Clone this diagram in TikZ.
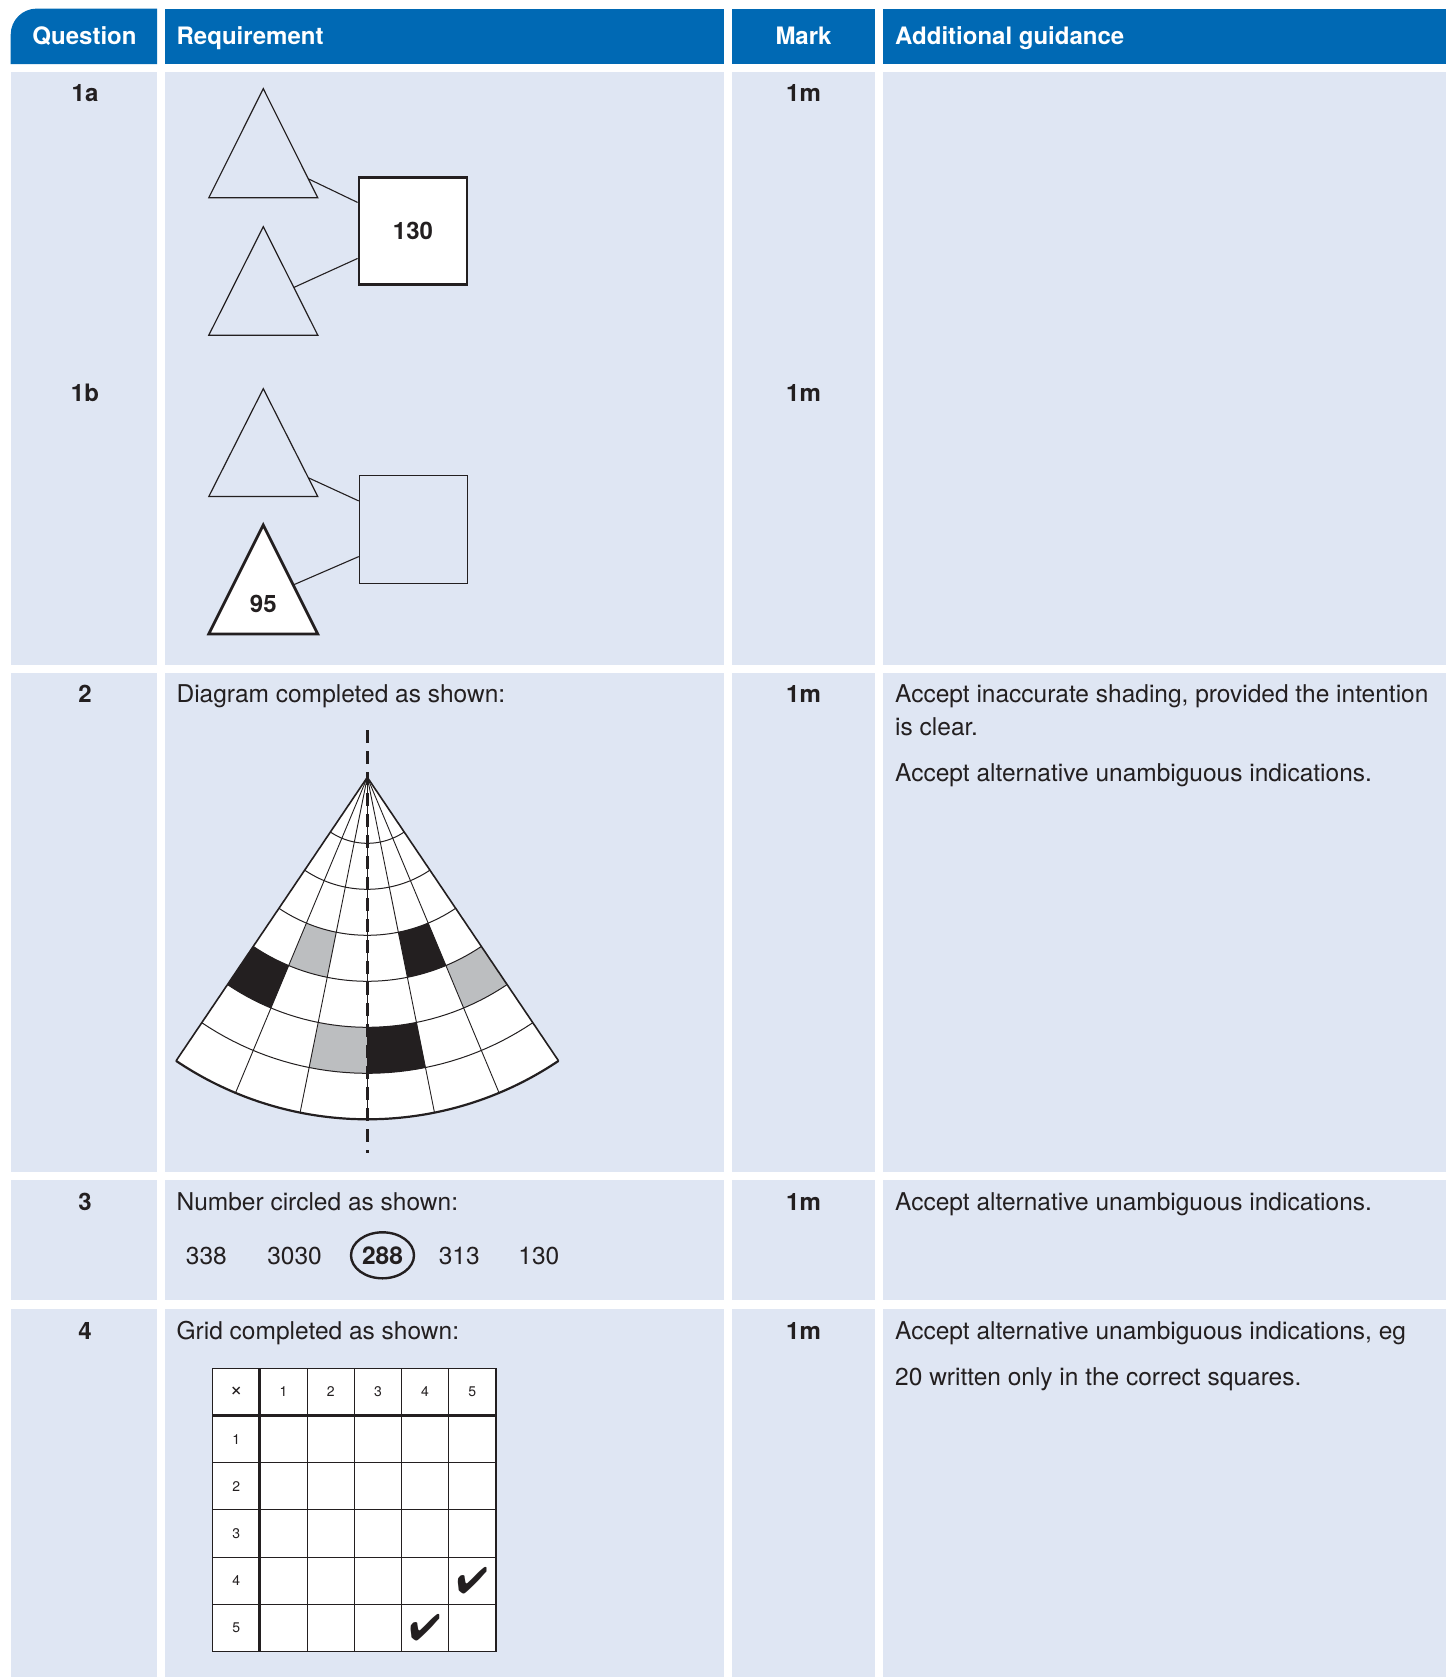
\documentclass[tikz,border=0pt]{standalone}
\usepackage{fontspec}
\setmainfont{TeX Gyre Heros}
\usepackage{pifont}
\usetikzlibrary{calc}
\definecolor{hdrblue}{HTML}{0069B4}
\definecolor{cellblue}{HTML}{DFE6F3}
\definecolor{ink}{HTML}{231F20}
\definecolor{shadegray}{HTML}{BCBEC0}
\tikzset{
  hdr/.style={text=white, font=\bfseries\fontsize{24}{28}\selectfont, inner sep=0pt},
  body/.style={text=ink, font=\fontsize{24.5}{28}\selectfont, inner sep=0pt, anchor=base west},
  lbl/.style={text=ink, font=\bfseries\fontsize{24}{28}\selectfont, inner sep=0pt, anchor=base},
  num/.style={text=ink, font=\fontsize{24.5}{28}\selectfont, inner sep=0pt, anchor=base},
  gridtxt/.style={text=ink, font=\fontsize{14}{16}\selectfont, inner sep=0pt},
  thinline/.style={draw=ink, line width=1pt},
  tri/.style={draw=ink, line width=1.2pt, line join=miter},
  conn/.style={draw=ink, line width=1.1pt},
  tickmark/.style={text=ink, font=\fontsize{37}{37}\selectfont, inner sep=0pt},
}
\newcommand\fancell[5]{\fill[#5] plot[domain=#1:#2,samples=12] ({\ax+#4*cos(\x)},{\ay+#4*sin(\x)}) -- plot[domain=#2:#1,samples=12] ({\ax+#3*cos(\x)},{\ay+#3*sin(\x)}) -- cycle;}
\begin{document}
\begin{tikzpicture}[x=1pt,y=-1pt]
\fill[white] (0,0) rectangle (1452,1677);
\useasboundingbox (0,0) rectangle (1452,1677);

% header
\fill[hdrblue] (10.7,64.2) [rounded corners=26pt] -- (10.7,8.6) [sharp corners] -- (157.2,8.6) -- (157.2,64.2) -- cycle;
\fill[hdrblue] (164.7,8.6) rectangle (723.8,64.2);
\fill[hdrblue] (732.4,8.6) rectangle (874.6,64.2);
\fill[hdrblue] (883.2,8.6) rectangle (1445.6,64.2);
\node[hdr, anchor=base] (hq) at (84.5,45) {Question};
\node[hdr, anchor=base west] (hr) at (176.4,45) {Requirement};
\node[hdr, anchor=base] (hm) at (803.5,45) {Mark};
\node[hdr, anchor=base west] (ha) at (895,45) {Additional guidance};

% body cells
\foreach \ya/\yb in {71.6/664.5, 672.5/1172, 1180.4/1300.1, 1308.7/1677}{
  \fill[cellblue] (10.7,\ya) rectangle (157.2,\yb);
  \fill[cellblue] (164.7,\ya) rectangle (723.8,\yb);
  \fill[cellblue] (732.4,\ya) rectangle (874.6,\yb);
  \fill[cellblue] (883.2,\ya) rectangle (1445.6,\yb);
}

% row labels and marks
\node[lbl] (q1a) at (85,101.7) {1a};
\node[lbl] (m1a) at (803.5,101.7) {1m};
\node[lbl] (q1b) at (85,401) {1b};
\node[lbl] (m1b) at (803.5,401) {1m};
\node[lbl] (q2) at (85,702) {2};
\node[lbl] (m2) at (803.5,702) {1m};
\node[lbl] (q3) at (85,1210) {3};
\node[lbl] (m3) at (803.5,1210) {1m};
\node[lbl] (q4) at (85,1339.7) {4};
\node[lbl] (m4) at (803.5,1339.7) {1m};

% requirement texts
\node[body] (r2) at (176.4,702) {Diagram completed as shown:};
\node[body] (r3) at (176.4,1210) {Number circled as shown:};
\node[body] (r4) at (176.4,1339.7) {Grid completed as shown:};

% guidance texts
\node[body] (g2a) at (895,702) {Accept inaccurate shading, provided the intention};
\node[body] (g2b) at (895,735.6) {is clear.};
\node[body] (g2c) at (895,781.6) {Accept alternative unambiguous indications.};
\node[body] (g3) at (895,1210) {Accept alternative unambiguous indications.};
\node[body] (g4a) at (895,1339.7) {Accept alternative unambiguous indications, eg};
\node[body] (g4b) at (895,1385.7) {20 written only in the correct squares.};

% ---- 1a ----
\coordinate (taA) at (263.3,88.7); \coordinate (taL) at (208.8,197.8); \coordinate (taR) at (317.8,197.8);
\draw[tri] (taA) -- (taL) -- (taR) -- cycle;
\coordinate (tbA) at (263.3,226.7); \coordinate (tbL) at (208.8,335.2); \coordinate (tbR) at (317.8,335.2);
\draw[tri] (tbA) -- (tbL) -- (tbR) -- cycle;
\node[draw=ink, fill=white, line width=2.8pt, minimum width=108pt, minimum height=107pt, inner sep=0pt,
      font=\bfseries\fontsize{24}{28}\selectfont, text=ink] (box130) at (413,231) {130};
\coordinate (taE) at ($(taA)!0.826!(taR)$);
\coordinate (tbE) at ($(tbA)!0.56!(tbR)$);
\draw[conn] (taE) -- ($(box130.north west)!0.24!(box130.south west)$);
\draw[conn] (tbE) -- ($(box130.north west)!0.75!(box130.south west)$);

% ---- 1b ----
\coordinate (tcA) at (263.3,388.7); \coordinate (tcL) at (208.8,496.5); \coordinate (tcR) at (317.8,496.5);
\draw[tri] (tcA) -- (tcL) -- (tcR) -- cycle;
\coordinate (tdA) at (263.3,525); \coordinate (tdL) at (208.8,634); \coordinate (tdR) at (317.8,634);
\draw[draw=ink, fill=white, line width=2.8pt, line join=miter] (tdA) -- (tdL) -- (tdR) -- cycle;
\node[lbl, anchor=center] (n95) at (263.3,604) {95};
\node[draw=ink, line width=1.2pt, minimum width=108pt, minimum height=108pt, inner sep=0pt] (boxE) at (413.3,529.3) {};
\coordinate (tcE) at ($(tcA)!0.826!(tcR)$);
\coordinate (tdE) at ($(tdA)!0.55!(tdR)$);
\draw[conn] (tcE) -- ($(boxE.north west)!0.24!(boxE.south west)$);
\draw[conn] (tdE) -- ($(boxE.north west)!0.75!(boxE.south west)$);

% ---- 2: fan ----
\def\ax{367.3}\def\ay{777.3}
\coordinate (apex) at (\ax,\ay);
\fill[white] (apex) -- plot[domain=56:124,samples=60] ({\ax+342*cos(\x)},{\ay+342*sin(\x)}) -- cycle;
\fancell{112.667}{124}{204}{250}{ink}
\fancell{67.333}{78.667}{158}{204}{ink}
\fancell{78.667}{90}{250}{296}{ink}
\fancell{56}{67.333}{204}{250}{shadegray}
\fancell{101.333}{112.667}{158}{204}{shadegray}
\fancell{90}{101.333}{250}{296}{shadegray}
\foreach \r in {66,112,158,204,250,296}{
  \draw[thinline] plot[domain=56:124,samples=40] ({\ax+\r*cos(\x)},{\ay+\r*sin(\x)});
}
\foreach \a in {67.333,78.667,90,101.333,112.667}{
  \draw[draw=ink, line width=0.9pt] (apex) -- ++(\a:342);
}
\draw[draw=ink, line width=1.6pt, line join=miter] ($(apex)+(124:342)$) -- (apex) -- ($(apex)+(56:342)$);
\draw[draw=ink, line width=2.2pt] plot[domain=56:124,samples=80] ({\ax+342*cos(\x)},{\ay+342*sin(\x)});
\coordinate (dtop) at (367.3,730);
\coordinate (dbot) at (367.3,1153);
\draw[draw=ink, line width=2.6pt, dash pattern=on 13pt off 8pt] (dtop) -- (dbot);

% ---- 3: numbers ----
\node[num] (n338) at (206.4,1264) {338};
\node[num] (n3030) at (294.6,1264) {3030};
\node[num, font=\bfseries\fontsize{24.5}{28}\selectfont] (n288) at (382.5,1264) {288};
\node[num] (n313) at (459.2,1264) {313};
\node[num] (n130) at (538.9,1264) {130};
\draw[draw=ink, line width=2.4pt] (382.5,1255.3) ellipse [x radius=31.5, y radius=23];

% ---- 4: grid ----
\def\gx{212.7}\def\gy{1368.3}\def\gc{47.2}
\fill[white] (\gx,\gy) rectangle ({\gx+6*\gc},{\gy+6*\gc});
\foreach \i in {2,...,5}{
  \draw[thinline] ({\gx+\i*\gc},\gy) -- ({\gx+\i*\gc},{\gy+6*\gc});
  \draw[thinline] (\gx,{\gy+\i*\gc}) -- ({\gx+6*\gc},{\gy+\i*\gc});
}
\draw[draw=ink, line width=1.3pt] (\gx,\gy) rectangle ({\gx+6*\gc},{\gy+6*\gc});
\draw[draw=ink, line width=3pt] ({\gx+\gc},\gy) -- ({\gx+\gc},{\gy+6*\gc});
\draw[draw=ink, line width=3pt] (\gx,{\gy+\gc}) -- ({\gx+6*\gc},{\gy+\gc});
\node[gridtxt, font=\fontsize{22}{22}\selectfont] (gx0) at ({\gx+\gc/2},{\gy+\gc/2}) {×};
\foreach \i in {1,...,5}{
  \node[gridtxt] (gcol\i) at ({\gx+\i*\gc+\gc/2},{\gy+\gc/2}) {\i};
  \node[gridtxt] (grow\i) at ({\gx+\gc/2},{\gy+\i*\gc+\gc/2}) {\i};
}
\node[tickmark] (tick1) at ({\gx+5.5*\gc},{\gy+4.5*\gc}) {\ding{52}};
\node[tickmark] (tick2) at ({\gx+4.5*\gc},{\gy+5.5*\gc}) {\ding{52}};
\end{tikzpicture}
\end{document}
